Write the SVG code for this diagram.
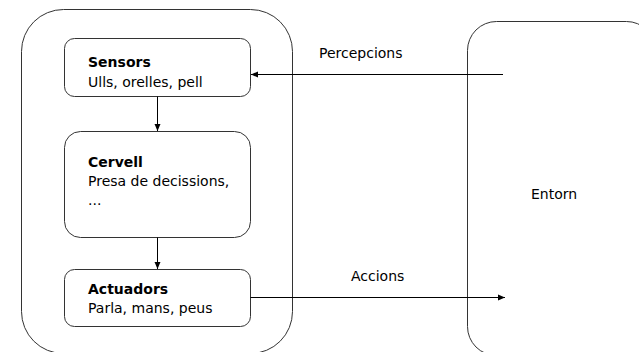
<svg xmlns="http://www.w3.org/2000/svg" width="639" height="352" viewBox="0 0 639 352">
<style>
.box{fill:#fff;stroke:#333;stroke-width:1}
.t{font-family:"DejaVu Sans",Verdana,sans-serif;font-size:14px;fill:#000}
.b{font-weight:bold}
.c{stroke:#000;stroke-width:1;fill:none}
</style>
<defs>
<marker id="ah" markerWidth="8" markerHeight="8" refX="7" refY="3.5" orient="auto" markerUnits="userSpaceOnUse">
<path d="M0,0.5 L7,3.5 L0,6.5 Z" fill="#000"/>
</marker>
</defs>
<rect width="639" height="352" fill="#fff"/>
<g id="agent"><rect class="box" x="21.5" y="9.5" width="271" height="344" rx="42" ry="42"/></g>
<g id="entorn"><rect class="box" x="467.5" y="21.5" width="188" height="334" rx="29" ry="29"/>
<text class="t" x="531" y="199">Entorn</text></g>
<g id="sensors"><rect class="box" x="64.5" y="38.5" width="186" height="58" rx="10" ry="10"/>
<text class="t b" x="88" y="67">Sensors</text>
<text class="t" x="88" y="87">Ulls, orelles, pell</text></g>
<g id="cervell"><rect class="box" x="64.5" y="131.5" width="186" height="106" rx="16" ry="16"/>
<text class="t b" x="88" y="167">Cervell</text>
<text class="t" x="88" y="186">Presa de decissions,</text>
<text class="t" x="88" y="205">...</text></g>
<g id="actuadors"><rect class="box" x="64.5" y="269.5" width="186" height="57" rx="10" ry="10"/>
<text class="t b" x="88" y="294">Actuadors</text>
<text class="t" x="88" y="313">Parla, mans, peus</text></g>
<g id="connectors">
<line class="c" x1="157.5" y1="96.5" x2="157.5" y2="131" marker-end="url(#ah)"/>
<line class="c" x1="157.5" y1="237.5" x2="157.5" y2="269" marker-end="url(#ah)"/>
<line class="c" x1="503" y1="74.5" x2="251" y2="74.5" marker-end="url(#ah)"/>
<line class="c" x1="250.5" y1="297.5" x2="505" y2="297.5" marker-end="url(#ah)"/>
<text class="t" x="319" y="58">Percepcions</text>
<text class="t" x="351" y="281">Accions</text>
</g>
</svg>
